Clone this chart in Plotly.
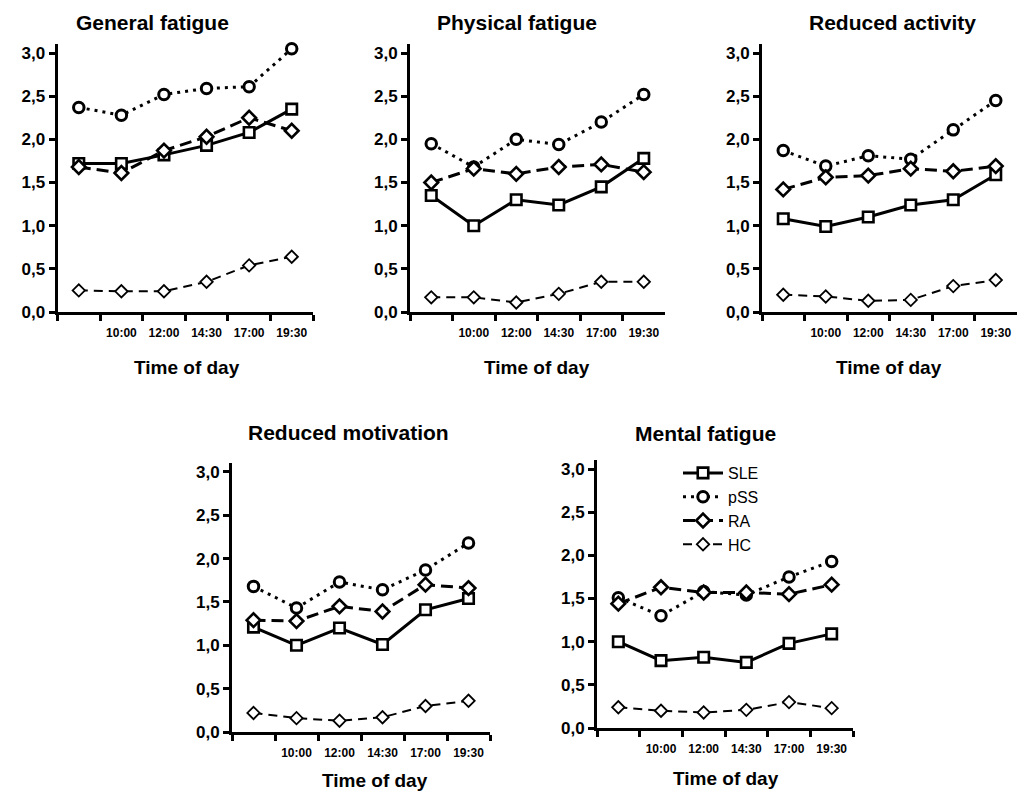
import plotly.graph_objects as go

# ---------------- data ----------------
times = [" ", "10:00", "12:00", "14:30", "17:00", "19:30"]
panel_titles = ["General fatigue", "Physical fatigue", "Reduced activity",
                "Reduced motivation", "Mental fatigue"]
groups = ["SLE", "pSS", "RA", "HC"]

general_sle = [1.72, 1.72, 1.82, 1.93, 2.08, 2.35]
general_pss = [2.37, 2.28, 2.52, 2.59, 2.61, 3.05]
general_ra = [1.68, 1.61, 1.87, 2.03, 2.25, 2.10]
general_hc = [0.25, 0.24, 0.24, 0.35, 0.54, 0.64]

physical_sle = [1.35, 1.00, 1.30, 1.24, 1.45, 1.78]
physical_pss = [1.95, 1.68, 2.00, 1.94, 2.20, 2.52]
physical_ra = [1.50, 1.66, 1.60, 1.68, 1.71, 1.62]
physical_hc = [0.17, 0.17, 0.11, 0.21, 0.35, 0.35]

activity_sle = [1.08, 0.99, 1.10, 1.24, 1.30, 1.59]
activity_pss = [1.87, 1.69, 1.81, 1.77, 2.11, 2.45]
activity_ra = [1.42, 1.56, 1.58, 1.66, 1.63, 1.69]
activity_hc = [0.20, 0.18, 0.13, 0.14, 0.30, 0.37]

motivation_sle = [1.21, 1.00, 1.20, 1.01, 1.41, 1.54]
motivation_pss = [1.68, 1.43, 1.73, 1.64, 1.87, 2.18]
motivation_ra = [1.29, 1.28, 1.45, 1.39, 1.70, 1.66]
motivation_hc = [0.22, 0.16, 0.13, 0.17, 0.30, 0.36]

mental_sle = [1.00, 0.78, 0.82, 0.76, 0.98, 1.09]
mental_pss = [1.51, 1.30, 1.58, 1.54, 1.75, 1.93]
mental_ra = [1.44, 1.63, 1.57, 1.57, 1.55, 1.66]
mental_hc = [0.24, 0.20, 0.18, 0.21, 0.30, 0.23]

y_ticks = [0, 0.5, 1.0, 1.5, 2.0, 2.5, 3.0]

panel_data = [
    [general_sle, general_pss, general_ra, general_hc],
    [physical_sle, physical_pss, physical_ra, physical_hc],
    [activity_sle, activity_pss, activity_ra, activity_hc],
    [motivation_sle, motivation_pss, motivation_ra, motivation_hc],
    [mental_sle, mental_pss, mental_ra, mental_hc],
]

# ---------------- styles ----------------
W, H = 1027, 793
PAD = 8  # default page (body) margin of the html page
FONT = "Liberation Sans, Arial, sans-serif"

styles = {
    "SLE": dict(line=dict(color="black", width=3, dash="solid"),
                marker=dict(symbol="square", size=10.5, color="white",
                            line=dict(color="black", width=2.6))),
    "pSS": dict(line=dict(color="black", width=3, dash="3px,5px"),
                marker=dict(symbol="circle", size=10.5, color="white",
                            line=dict(color="black", width=3))),
    "RA": dict(line=dict(color="black", width=3, dash="12px,6px"),
               marker=dict(symbol="diamond", size=10.5, color="white",
                           line=dict(color="black", width=2.6))),
    "HC": dict(line=dict(color="black", width=2, dash="9px,6px"),
               marker=dict(symbol="diamond", size=9.5, color="white",
                           line=dict(color="black", width=1.8))),
}


def px_x(x):
    return (x - PAD) / W


def px_y(y):
    return 1 - (y - PAD) / H


# panel boxes in pixels: (left, right, y of 0, y of top)
boxes = [(57.5, 313, 312, 44.4), (410, 665, 312, 44.4), (762, 1017, 312, 44.4),
         (232, 490, 732, 463.3), (597, 853, 728, 460.4)]
title_pos = [(152, 22), (517, 22), (892, 23), (348, 432), (705, 433)]
xlabel_pos = [(187, 368), (537, 368), (889, 368), (375, 780), (726, 778)]

fig = go.Figure()
annotations = []
layout_axes = {}

for i, (title, data) in enumerate(zip(panel_titles, panel_data)):
    k = "" if i == 0 else str(i + 1)
    l, r, yb, yt = boxes[i]
    for g, vals in zip(groups, data):
        fig.add_trace(go.Scatter(
            x=times, y=vals, mode="lines+markers", name=g,
            legendgroup=g, showlegend=(i == 0),
            line=styles[g]["line"], marker=styles[g]["marker"],
            xaxis="x" + k, yaxis="y" + k, cliponaxis=False))
    layout_axes["xaxis" + k] = dict(
        domain=[px_x(l), px_x(r)], anchor="y" + k, type="category",
        categoryorder="array", categoryarray=times,
        range=[-0.5, 5.5], tickson="boundaries",
        showline=True, linewidth=3, linecolor="black",
        ticks="outside", ticklen=6, tickwidth=2.5, tickcolor="black",
        ticklabelstandoff=8,
        showgrid=False, zeroline=False,
        tickfont=dict(family=FONT, size=12, color="black", weight="bold"))
    layout_axes["yaxis" + k] = dict(
        domain=[px_y(yb), px_y(yt)], anchor="x" + k,
        range=[0, 3.1], tickvals=y_ticks, tickformat=".1f",
        showline=True, linewidth=3, linecolor="black",
        ticks="outside", ticklen=6, tickwidth=2.5, tickcolor="black",
        showgrid=False, zeroline=False,
        tickfont=dict(family=FONT, size=17, color="black", weight="bold"))
    tx, ty = title_pos[i]
    annotations.append(dict(text=title, x=px_x(tx), y=px_y(ty), xref="paper", yref="paper",
                            xanchor="center", yanchor="middle", showarrow=False,
                            font=dict(family=FONT, size=21, color="black", weight="bold")))
    lx, ly = xlabel_pos[i]
    annotations.append(dict(text="Time of day", x=px_x(lx), y=px_y(ly), xref="paper", yref="paper",
                            xanchor="center", yanchor="middle", showarrow=False,
                            font=dict(family=FONT, size=19, color="black", weight="bold")))

fig.update_layout(
    width=W, height=H,
    margin=dict(l=0, r=0, t=0, b=0, autoexpand=False),
    paper_bgcolor="white", plot_bgcolor="white",
    separators=", ",
    font=dict(family=FONT, color="black"),
    annotations=annotations,
    legend=dict(x=px_x(678), y=px_y(456), xanchor="left", yanchor="top",
                bgcolor="rgba(0,0,0,0)", itemwidth=40, tracegroupgap=0,
                font=dict(family=FONT, size=16, color="black")),
    **layout_axes,
)

fig.write_html("out.html")
